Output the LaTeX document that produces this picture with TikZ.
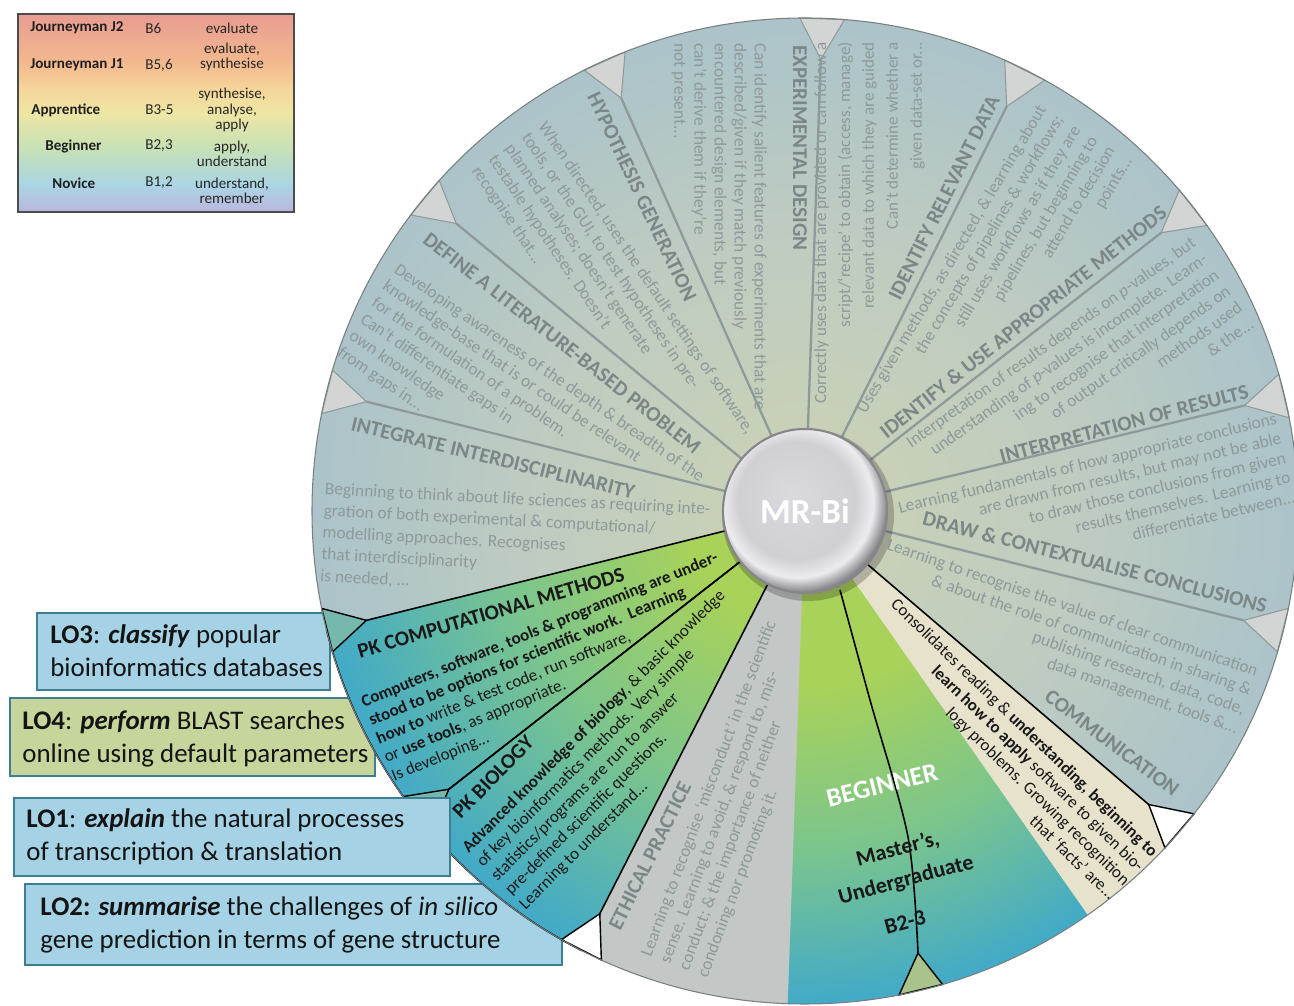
\documentclass[tikz,border=0pt]{standalone}
\usepackage{fontspec}
\setmainfont{Carlito}
\usetikzlibrary{calc}

% wheel colours
\definecolor{wIn}{HTML}{C8D0B8}
\definecolor{wMid}{HTML}{BDCBC2}
\definecolor{wOut}{HTML}{ABC3C9}
\definecolor{gIn}{HTML}{A8D25A}
\definecolor{gMid}{HTML}{7CC58C}
\definecolor{gOut}{HTML}{42AAC8}
\definecolor{creamC}{HTML}{E6E2CC}
\definecolor{ethicC}{HTML}{C3C7C5}
\definecolor{spokeC}{HTML}{8E9A9A}
\definecolor{notchC}{HTML}{D3D5D5}
\definecolor{notchTeal}{HTML}{76B8AC}
\definecolor{notchOlive}{HTML}{A9C38A}
\definecolor{titleC}{HTML}{7B8787}
\definecolor{descC}{HTML}{8E9A9A}
\definecolor{rimC}{HTML}{77807F}
\definecolor{hubIn}{HTML}{DADADE}
\definecolor{hubMid}{HTML}{D0D0D4}
\definecolor{hubHi}{HTML}{ECECEF}
\definecolor{hubEdge}{HTML}{85858A}
% learning-outcome boxes
\definecolor{loBlue}{HTML}{A5D3E5}
\definecolor{loGreen}{HTML}{C5D59C}
\definecolor{loEdge}{HTML}{3E7E92}
% level key
\definecolor{lg0}{HTML}{BBB6DE}
\definecolor{lg1}{HTML}{AAD6E4}
\definecolor{lg2}{HTML}{C9E1B4}
\definecolor{lg3}{HTML}{EEE6A4}
\definecolor{lg4}{HTML}{F5D69A}
\definecolor{lg5}{HTML}{F3B88E}
\definecolor{lg6}{HTML}{E89C92}

% TikZ maps the central half of a shading onto the path (radius 25bp, or 25bp..75bp)
\pgfdeclareradialshading{wheelshade}{\pgfpoint{0bp}{0bp}}{color(0bp)=(wIn); color(4.5bp)=(wIn); color(15bp)=(wMid); color(25bp)=(wOut); color(50bp)=(wOut)}
\pgfdeclareradialshading{pkshade}{\pgfpoint{0bp}{0bp}}{color(0bp)=(gIn); color(6bp)=(gIn); color(15bp)=(gMid); color(25bp)=(gOut); color(50bp)=(gOut)}
\pgfdeclareradialshading{begshade}{\pgfpoint{0bp}{0bp}}{color(0bp)=(gIn); color(9bp)=(gIn); color(17bp)=(gMid); color(25bp)=(gOut); color(50bp)=(gOut)}
\pgfdeclareradialshading{hubshade}{\pgfpoint{-4bp}{5bp}}{color(0bp)=(hubIn); color(18bp)=(hubMid); color(23bp)=(hubHi); color(27bp)=(hubEdge); color(50bp)=(hubEdge)}
\pgfdeclareverticalshading{legendshade}{100bp}{color(0bp)=(lg0); color(25bp)=(lg0); color(32bp)=(lg1); color(41.5bp)=(lg2); color(50bp)=(lg3); color(56bp)=(lg4); color(63bp)=(lg5); color(75bp)=(lg6); color(100bp)=(lg6)}

\tikzset{
  wedgepath/.style 2 args={insert path={(C) -- ++(#1:493) arc[start angle=#1, end angle=#2, radius=493] -- cycle}},
  spoke/.style={draw=spokeC, line width=1.3pt},
  notch/.style={fill=notchC, draw=spokeC, line width=0.6pt},
  cnotch/.style={draw=black, line width=0.8pt},
  edgeline/.style={draw=black, line width=0.9pt},
  lobox/.style={draw=loEdge, line width=0.6pt},
  ttl/.style={font=\fontsize{12}{13.5}\selectfont\bfseries, text=titleC, inner sep=0pt},
  dsc/.style={font=\fontsize{9.9}{11.4}\selectfont, text=descC, inner sep=0pt},
  pkttl/.style={font=\fontsize{12}{14}\selectfont\bfseries, text=black!90, inner sep=0pt},
  pkdsc/.style={font=\fontsize{9.7}{11.4}\selectfont, text=black!90, inner sep=0pt},
  lotxt/.style={font=\fontsize{15.3}{18.7}\selectfont, text=black!92, inner sep=0pt, align=left, anchor=west},
  legname/.style={font=\fontsize{8.6}{9}\selectfont\bfseries, text=black!88, inner sep=0pt, anchor=west},
  legtxt/.style={font=\fontsize{8.6}{8.8}\selectfont, text=black!85, inner sep=0pt, align=center},
}

\begin{document}
\begin{tikzpicture}[x=0.02cm, y=0.02cm]
\useasboundingbox (0,0) rectangle (1294,1006);
\fill[white] (0,0) rectangle (1294,1006);
\coordinate (C) at (805,495);

% learning-outcome boxes lying under the wheel
\filldraw[lobox, fill=loBlue] (37,316) rectangle (330,393);
\filldraw[lobox, fill=loGreen] (10,230) rectangle (375,308);
\filldraw[lobox, fill=loBlue] (25,41) rectangle (562,122);

% wheel background
\shade[shading=wheelshade] (C) circle (493);
\fill[ethicC, wedgepath={243}{268}];

% highlighted segments
\begin{scope}
  \path[clip, wedgepath={194}{243}];
  \shade[shading=pkshade] (C) circle (493);
\end{scope}
\begin{scope}
  \path[clip, wedgepath={268}{305}];
  \shade[shading=begshade] (C) circle (493);
\end{scope}
\fill[creamC, wedgepath={305}{319.5}];

% grey spokes and rim notches
\foreach \a in {88,114,140.5,166,346,13.5,38,63.5}
  \draw[spoke] ($(C)+(\a:82)$) -- ($(C)+(\a:452)$);
\foreach \a in {88,114,140.5,166,346,13.5,38,63.5}
  \filldraw[notch] ($(C)+({\a-2.6}:493)$) -- ($(C)+(\a:452)$) -- ($(C)+({\a+2.6}:493)$) -- cycle;

% black outlines of the highlighted segments
\draw[edgeline, wedgepath={194}{218}];
\draw[edgeline, wedgepath={218}{243}];
\draw[edgeline] ($(C)+(319.5:82)$) -- ($(C)+(319.5:493)$);
\draw[edgeline] plot[smooth] coordinates {(840,416) (870,306) (908,169) (918,53)};

\foreach \a in {194,218}
  \filldraw[cnotch, fill=notchTeal] ($(C)+({\a-2.6}:493)$) -- ($(C)+(\a:452)$) -- ($(C)+({\a+2.6}:493)$) -- cycle;
\foreach \a in {243,319.5}
  \filldraw[cnotch, fill=white] ($(C)+({\a-2.6}:493)$) -- ($(C)+(\a:452)$) -- ($(C)+({\a+2.6}:493)$) -- cycle;
\filldraw[cnotch, fill=notchOlive] ($(C)+(281:493)$) -- (918,53) -- ($(C)+(286.2:493)$) -- cycle;

\draw[rimC, line width=0.6pt] (C) circle (493);

% ---- segment texts ----
% experimental design
\node[ttl, rotate=-90, anchor=west] (t1) at (800,961) {EXPERIMENTAL DESIGN};
\node[dsc, rotate=-90, anchor=north west, align=left] (d1) at (767,963)
  {Can identify salient features of experiments that are\\described/given if they match previously\\encountered design elements, but\\can't derive them if they're\\not present...};
% identify relevant data
\node[ttl, rotate=63.5] (t2) at (944,808) {IDENTIFY RELEVANT DATA};
\node[dsc, rotate=90, anchor=north east, align=right, font=\fontsize{9.7}{13.6}\selectfont] (d2) at (814,964)
  {Correctly uses data that are provided or can follow a\\script/`recipe' to obtain (access, manage)\\relevant data to which they are guided\\Can't determine whether a\\given data-set or...};
% hypothesis generation
\node[ttl, rotate=-64.6] (t3) at (642,809) {HYPOTHESIS GENERATION};
\node[dsc, rotate=-56, anchor=north west, align=left] (d3) at (548,887)
  {When directed, uses the default settings of software,\\tools, or the GUI, to test hypotheses in pre-\\planned analyses; doesn't generate\\testable hypotheses. Doesn't\\recognise that...};
% literature-based problem
\node[ttl, rotate=-38] (t4) at (562,663) {DEFINE A LITERATURE-BASED PROBLEM};
\node[dsc, rotate=-34.4, anchor=north west, align=left] (d4) at (400,744)
  {Developing awareness of the depth \& breadth of the\\knowledge-base that is or could be relevant\\for the formulation of a problem.\\Can't differentiate gaps in\\own knowledge\\from gaps in...};
% interdisciplinarity
\node[ttl, rotate=-13.7] (t5) at (493,548) {INTEGRATE INTERDISCIPLINARITY};
\node[dsc, rotate=-3, anchor=north west, align=left, font=\fontsize{9.9}{12.4}\selectfont] (d5) at (325,524)
  {Beginning to think about life sciences as requiring inte-\\gration of both experimental \& computational/\\modelling approaches. Recognises\\that interdisciplinarity\\is needed, ...};
% PK computational methods
\node[pkttl, rotate=16.4] (t6) at (491,393) {PK COMPUTATIONAL METHODS};
\node[pkdsc, rotate=22.3, anchor=north west, align=left] (d6) at (359,310)
  {\textbf{Computers, software, tools \& programming are under-}\\\textbf{stood to be options for scientific work.\ \ Learning}\\\textbf{how to} write \& test code, run software,\\or \textbf{use tools}, as appropriate.\\Is developing...};
% PK biology
\node[pkttl, rotate=45.7] (t7) at (493,229) {PK BIOLOGY};
\node[pkdsc, rotate=45, anchor=north west, align=left] (d7) at (460,161)
  {\textbf{Advanced knowledge of biology}, \& basic knowledge\\of key bioinformatics methods. Very simple\\statistics/programs are run to answer\\pre-defined scientific questions.\\Learning to understand...};
% ethical practice
\node[ttl, rotate=63.7] (t8) at (650,150) {ETHICAL PRACTICE};
\node[dsc, rotate=69.5, anchor=north west, align=left] (d8) at (639,53)
  {Learning to recognise `misconduct' in the scientific\\sense. Learning to avoid, \& respond to, mis-\\conduct; \& the importance of neither\\condoning nor promoting it.};
% beginner level
\node[font=\fontsize{15}{17}\selectfont\bfseries, text=white, rotate=14, inner sep=0pt] (t9) at (882,221) {BEGINNER};
\node[font=\fontsize{12.6}{18}\selectfont\bfseries, text=black!90, rotate=15, inner sep=0pt, align=center] (t9b) at (902,141) {Master's,\\Undergraduate};
\node[font=\fontsize{12.6}{14}\selectfont\bfseries, text=black!90, rotate=15, inner sep=0pt] (t9c) at (905,84) {B2-3};
\node[pkdsc, rotate=-44, anchor=north east, align=right] (d10) at (1160,157)
  {Consolidates reading \& \textbf{understanding, beginning to}\\\textbf{learn how to apply} software to given bio-\\logy problems. Growing recognition\\that `facts' are...};
% communication
\node[ttl, rotate=-37] (t11) at (1112,263) {COMMUNICATION};
\node[dsc, rotate=-19, anchor=north east, align=right] (d11) at (1260,341)
  {Learning to recognise the value of clear communication\\\& about the role of communication in sharing \&\\publishing research, data, code,\\data management, tools \&...};
% conclusions
\node[ttl, rotate=-14.4] (t12) at (1095,444) {DRAW \& CONTEXTUALISE CONCLUSIONS};
\node[dsc, rotate=13.3, anchor=north east, align=right] (d12) at (1275,594)
  {Learning fundamentals of how appropriate conclusions\\are drawn from results, but may not be able\\to draw those conclusions from given\\results themselves. Learning to\\differentiate between...};
% interpretation
\node[ttl, rotate=14.8] (t13) at (1124,582) {INTERPRETATION OF RESULTS};
\node[dsc, rotate=35.4, anchor=north east, align=right] (d13) at (1190,771)
  {Interpretation of results depends on \textit{p}-values, but\\understanding of \textit{p}-values is incomplete. Learn-\\ing to recognise that interpretation\\of output critically depends on\\methods used\\\& the...};
% methods
\node[ttl, rotate=38.5] (t14) at (1023,684) {IDENTIFY \& USE APPROPRIATE METHODS};
\node[dsc, rotate=59.3, anchor=north east, align=right] (d14) at (1036,903)
  {Uses given methods, as directed, \& learning about\\the concepts of pipelines \& workflows;\\still uses workflows as if they are\\pipelines, but beginning to\\attend to decision\\points...};

% hub
\fill[black, opacity=0.22] ($(C)+(3,-4)$) circle (86);
\shade[shading=hubshade] (C) circle (82);
\draw[hubEdge, line width=1.2pt] (C) circle (82);
\node[font=\fontsize{20}{22}\selectfont\bfseries, text=white, inner sep=0pt] (hub) at (C) {MR-Bi};

% learning-outcome box over the wheel
\filldraw[lobox, fill=loBlue] (14,130) rectangle (450,208);
\node[lotxt] (lo3) at (50,355) {\textbf{LO3}: \textbf{\textit{classify}} popular\\bioinformatics databases};
\node[lotxt] (lo4) at (22,267) {\textbf{LO4}: \textbf{\textit{perform}} BLAST searches\\online using default parameters};
\node[lotxt] (lo1) at (26,169) {\textbf{LO1}: \textbf{\textit{explain}} the natural processes\\of transcription \& translation};
\node[lotxt] (lo2) at (40,81) {\textbf{LO2:} \textbf{\textit{summarise}} the challenges of \textit{in silico}\\gene prediction in terms of gene structure};

% level key
\shade[shading=legendshade] (18,794) rectangle (294,992);
\draw[black!70, line width=0.6pt] (18,794) rectangle (294,992);
\node[legname] (k1) at (30,978) {Journeyman J2};
\node[legname] (k2) at (30,941) {Journeyman J1};
\node[legname] (k3) at (31,896) {Apprentice};
\node[legname] (k4) at (45,860) {Beginner};
\node[legname] (k5) at (52,823) {Novice};
\node[legtxt, anchor=west] (b1) at (145,978) {B6};
\node[legtxt, anchor=west] (b2) at (145,941) {B5,6};
\node[legtxt, anchor=west] (b3) at (145,896) {B3-5};
\node[legtxt, anchor=west] (b4) at (145,860) {B2,3};
\node[legtxt, anchor=west] (b5) at (145,823) {B1,2};
\node[legtxt] (v1) at (232,978) {evaluate};
\node[legtxt] (v2) at (232,949) {evaluate,\\synthesise};
\node[legtxt] (v3) at (232,896) {synthesise,\\analyse,\\apply};
\node[legtxt] (v4) at (232,852) {apply,\\understand};
\node[legtxt] (v5) at (232,815) {understand,\\remember};
\end{tikzpicture}
\end{document}
